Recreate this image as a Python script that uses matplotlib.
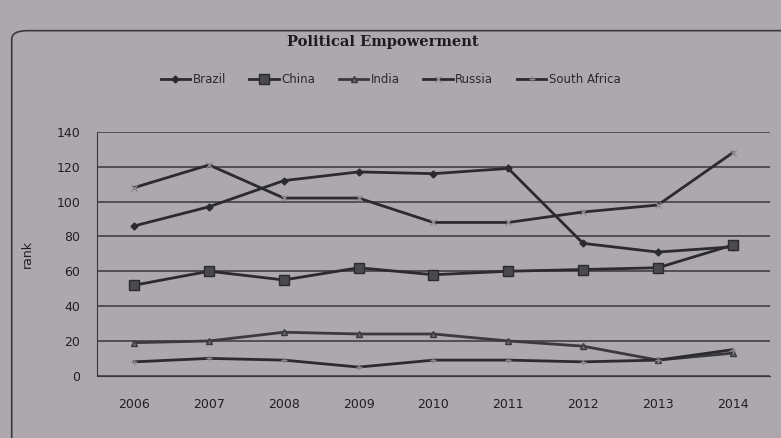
import matplotlib.pyplot as plt
from matplotlib.patches import FancyBboxPatch

years = ['2006', '2007', '2008', '2009', '2010', '2011', '2012', '2013', '2014']
brazil = [86, 97, 112, 117, 116, 119, 76, 71, 74]
china = [52, 60, 55, 62, 58, 60, 61, 62, 75]
india = [19, 20, 25, 24, 24, 20, 17, 9, 13]
russia = [108, 121, 102, 102, 88, 88, 94, 98, 128]
south_africa = [8, 10, 9, 5, 9, 9, 8, 9, 15]

paper = '#aca8ae'
ink = '#2b2a2e'

fig = plt.figure(figsize=(7.81, 4.38), dpi=100, facecolor=paper)
ax = fig.add_axes([0.124, 0.142, 0.862, 0.557], facecolor=paper)

# chart frame
frame = FancyBboxPatch((0.015, -0.05), 1.05, 0.98, boxstyle='round,pad=0,rounding_size=0.02',
                       transform=fig.transFigure, fill=False, edgecolor='#3a393d', lw=1.2)
fig.patches.append(frame)

x = range(len(years))
ax.plot(x, brazil, color=ink, lw=2, marker='D', ms=3.5, label='Brazil')
ax.plot(x, china, color=ink, lw=2, marker='s', ms=7, mfc='#4a494c', label='China')
ax.plot(x, india, color='#3a393d', lw=2, marker='^', ms=5, mfc='#6a686c', label='India')
ax.plot(x, russia, color=ink, lw=2, marker='x', ms=4, mec='#8a888c', label='Russia')
ax.plot(x, south_africa, color=ink, lw=2, marker='+', ms=4, mec='#8a888c', label='South Africa')

ax.set_xlim(-0.5, len(years) - 0.5)
ax.set_ylim(0, 140)
ax.set_yticks(range(0, 141, 20))
ax.set_xticks(list(x))
ax.set_xticklabels(years)
ax.grid(axis='y', color='#38373b', lw=1.1)
ax.set_axisbelow(True)
for side in ['top', 'right']:
    ax.spines[side].set_visible(False)
ax.spines['left'].set_color('#38373b')
ax.spines['bottom'].set_color('#38373b')
ax.tick_params(length=0, labelsize=9, colors='#202023', pad=16)
ax.tick_params(axis='y', pad=12)
ax.set_ylabel('rank', fontsize=9, color='#202023', labelpad=16)

fig.text(0.49, 0.905, 'Political Empowerment', ha='center', va='center',
         fontsize=10.5, fontweight='bold', family='DejaVu Serif', color='#1c1b1e')
fig.legend(loc='center', bbox_to_anchor=(0.5, 0.818), ncol=5, frameon=False,
           fontsize=8.5, handlelength=2.5, columnspacing=2.0, handletextpad=0.2,
           labelcolor='#2a292d')

fig.savefig('out.png', dpi=100, facecolor=paper)
